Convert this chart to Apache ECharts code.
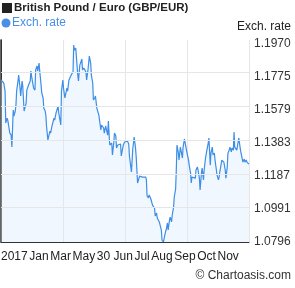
<!DOCTYPE html>
<html><head><meta charset="utf-8">
<script src="https://cdn.jsdelivr.net/npm/echarts@6/dist/echarts.min.js"></script>
<style>html,body{margin:0;padding:0;background:#fff}#c{width:295px;height:288px}</style>
</head><body><div id="c"></div>
<script>
const title = 'British Pound / Euro (GBP/EUR)';
const seriesName = 'Exch. rate';
const xTickLabels = ['2017', 'Jan', 'Mar', 'May', '30 Jun', 'Jul', 'Aug', 'Sep', 'Oct', 'Nov'];
const yTicks = [1.0796, 1.0991, 1.1187, 1.1383, 1.1579, 1.1775, 1.1970];
// days since start of the one-year window
const days = [0,4,6,7,9,10,13,15,16,18,19,21,22,23,25,26,28,29,31,32,34,37,38,40,43,44,45,48,50,51,53,54,56,57,59,60,62,63,65,66,67,69,72,73,75,78,79,81,84,85,86,88,89,91,92,94,97,98,100,101,104,106,107,108,110,113,114,116,119,120,122,125,126,128,130,132,133,135,136,138,139,141,142,144,145,147,148,151,152,154,157,158,160,163,164,166,167,169,170,172,174,176,177,180,182,183,186,188,189,191,192,194,195,196,198,199,201,202,204,205,208,210,213,214,215,217,218,220,221,223,224,226,227,229,230,233,235,236,237,239,240,242,243,245,246,248,249,251,252,254,255,257,258,259,261,262,264,265,267,268,270,271,273,276,277,279,280,281,283,286,287,289,290,292,293,295,296,298,299,301,303,305,306,308,309,311,312,314,315,317,318,320,321,322,324,325,327,328,330,331,333,334,336,337,339,340,342,343,344,346,347,349,350,352,353,355,356,358,359,361,362,364,365];
const rates = [1.1757,1.1739,1.1691,1.1502,1.1531,1.1519,1.1442,1.1430,1.1359,1.1579,1.1543,1.1573,1.1608,1.1691,1.1751,1.1786,1.1709,1.1662,1.1751,1.1721,1.1573,1.1620,1.1697,1.1721,1.1751,1.1810,1.1780,1.1709,1.1697,1.1816,1.1840,1.1810,1.1857,1.1810,1.1727,1.1680,1.1650,1.1590,1.1573,1.1549,1.1484,1.1401,1.1454,1.1442,1.1484,1.1531,1.1519,1.1561,1.1602,1.1561,1.1567,1.1490,1.1691,1.1757,1.1709,1.1650,1.1709,1.1691,1.1757,1.1768,1.1792,1.1804,1.1964,1.1934,1.1946,1.1786,1.1751,1.1845,1.1881,1.1816,1.1828,1.1804,1.1757,1.1816,1.1899,1.1857,1.1786,1.1739,1.1638,1.1650,1.1662,1.1590,1.1579,1.1549,1.1519,1.1460,1.1490,1.1472,1.1442,1.1484,1.1430,1.1513,1.1371,1.1383,1.1312,1.1383,1.1442,1.1424,1.1353,1.1371,1.1365,1.1377,1.1306,1.1371,1.1389,1.1383,1.1395,1.1377,1.1306,1.1300,1.1211,1.1353,1.1383,1.1419,1.1353,1.1300,1.1146,1.1152,1.1187,1.1181,1.1181,1.1175,1.1181,1.1164,1.1069,1.1057,1.1075,1.1057,1.1045,1.1015,1.1009,1.0997,1.0950,1.0968,1.0938,1.0915,1.0909,1.0867,1.0808,1.0796,1.0802,1.0855,1.0867,1.0909,1.0867,1.0926,1.0944,1.0915,1.0956,1.1003,1.1063,1.1110,1.1223,1.1371,1.1324,1.1282,1.1359,1.1359,1.1294,1.1359,1.1407,1.1407,1.1341,1.1282,1.1252,1.1205,1.1146,1.1181,1.1175,1.1175,1.1223,1.1241,1.1223,1.1175,1.1104,1.1205,1.1235,1.1164,1.1223,1.1294,1.1341,1.1383,1.1413,1.1252,1.1324,1.1359,1.1312,1.1324,1.1282,1.1223,1.1193,1.1164,1.1181,1.1211,1.1205,1.1282,1.1282,1.1270,1.1223,1.1175,1.1241,1.1324,1.1341,1.1359,1.1330,1.1353,1.1341,1.1448,1.1359,1.1353,1.1341,1.1330,1.1413,1.1353,1.1330,1.1341,1.1270,1.1288,1.1270,1.1282,1.1270,1.1264,1.1258];

const FONT = '"Liberation Sans", Arial, sans-serif';
const lineColor = '#3d8ee6';
const chart = echarts.init(document.getElementById('c'), null, {renderer: 'canvas'});
const data = days.map((d, i) => [d, rates[i]]);
const yMin = yTicks[0];
const yMax = 1.1994;
const tickFmt = v => {
  let best = yTicks[0];
  yTicks.forEach(t => { if (Math.abs(t - v) < Math.abs(best - v)) best = t; });
  return best.toFixed(4);
};

chart.setOption({
  animation: false,
  grid: {left: 1, right: 46, top: 40, bottom: 46},
  xAxis: {
    type: 'value', min: 0, max: 365, interval: 91.25,
    axisLabel: {show: false}, axisTick: {show: false},
    axisLine: {show: true, lineStyle: {color: '#333', width: 1}},
    splitLine: {show: true, lineStyle: {color: '#e6e6e6', width: 1}}
  },
  yAxis: [{
    type: 'value', position: 'right', min: yMin, max: yMax, scale: true,
    axisLine: {show: true, lineStyle: {color: '#333', width: 1}},
    axisTick: {show: false},
    splitLine: {show: false},
    axisLabel: {customValues: yTicks, formatter: tickFmt, color: '#333', fontFamily: FONT, fontSize: 12, margin: 5}
  }, {
    type: 'value', position: 'left', min: yMin, max: yMax, scale: true,
    axisLine: {show: true, lineStyle: {color: '#333', width: 1.5}},
    axisTick: {show: false}, axisLabel: {show: false}, splitLine: {show: false}
  }],
  series: [{
    type: 'line', name: seriesName, data: data, yAxisIndex: 0,
    showSymbol: false, symbol: 'none',
    lineStyle: {color: lineColor, width: 1.2},
    areaStyle: {color: 'rgba(220,236,253,0.6)', origin: 'start'},
    markLine: {
      silent: true, symbol: 'none', label: {show: false},
      lineStyle: {color: '#e6e6e6', type: 'solid', width: 1},
      data: yTicks.slice(1, -1).map(v => ({yAxis: v}))
    },
    z: 3
  }],
  graphic: [
    {type: 'rect', left: 2, top: 3, shape: {width: 10, height: 10}, style: {fill: '#222'}},
    {type: 'text', left: 14, top: 2, style: {text: title, font: 'bold 11.5px ' + FONT, fill: '#222'}},
    {type: 'circle', shape: {cx: 6, cy: 23, r: 4.5}, style: {fill: '#4a8fe7'}},
    {type: 'text', left: 12, top: 17, style: {text: seriesName, font: '12px ' + FONT, fill: '#4a8fe7'}},
    {type: 'text', right: 4, top: 21, style: {text: seriesName, font: '12px ' + FONT, fill: '#222'}},
    {type: 'text', left: 1, top: 251, style: {
      text: xTickLabels.map(l => '{a|' + l + '}').join(''),
      rich: {a: {font: '12px ' + FONT, fill: '#222', padding: [0, 1.6, 0, 0]}}
    }},
    {type: 'text', right: 4, top: 270, style: {text: '\u00a9 Chartoasis.com', font: '12px ' + FONT, fill: '#333'}}
  ]
});
</script></body></html>
